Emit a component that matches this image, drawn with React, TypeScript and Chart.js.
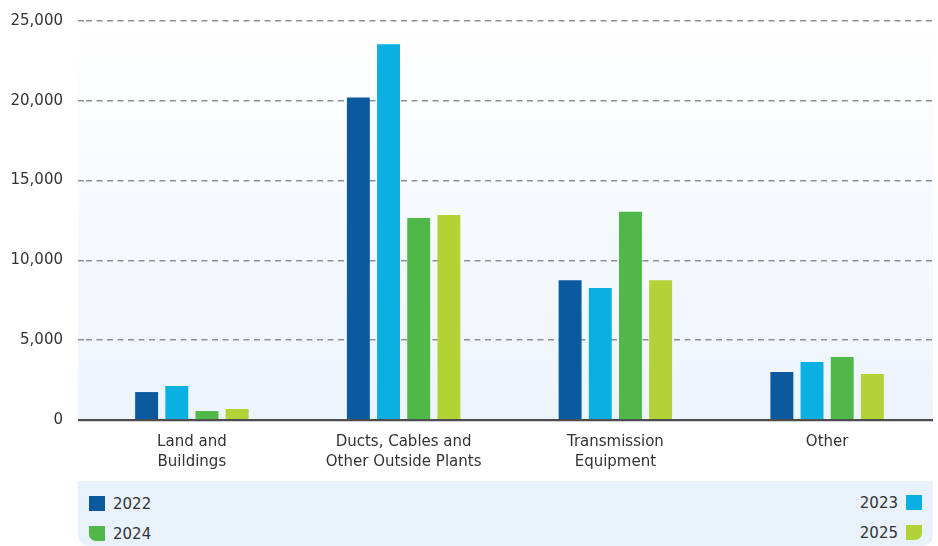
import React, { useEffect, useRef } from 'react';
import { Chart, registerables } from 'chart.js';
Chart.register(...registerables);

const categories: string[][] = [
  ['Land and', 'Buildings'],
  ['Ducts, Cables and', 'Other Outside Plants'],
  ['Transmission', 'Equipment'],
  ['Other'],
];
const years = ['2022', '2023', '2024', '2025'];
const values2022 = [1750, 20200, 8750, 3000];
const values2023 = [2130, 23550, 8270, 3630];
const values2024 = [560, 12650, 13050, 3950];
const values2025 = [690, 12850, 8750, 2880];
const yearColors = ['#0b5aa0', '#0ab0e2', '#50b848', '#b3d236'];
const yMax = 25000;
const yStep = 5000;

const FONT = '"DejaVu Sans", sans-serif';

const bgPlugin = {
  id: 'plotBg',
  beforeDraw(chart: any) {
    const { ctx, chartArea } = chart;
    const g = ctx.createLinearGradient(0, chartArea.top, 0, chartArea.bottom);
    g.addColorStop(0, '#ffffff');
    g.addColorStop(1, '#edf4fc');
    ctx.save();
    ctx.fillStyle = g;
    ctx.fillRect(chartArea.left - 8, chartArea.top, chartArea.right - chartArea.left + 8, chartArea.bottom - chartArea.top);
    ctx.restore();
  },
  afterDatasetsDraw(chart: any) {
    const { ctx, chartArea } = chart;
    ctx.save();
    ctx.strokeStyle = '#4d4d4d';
    ctx.lineWidth = 2;
    ctx.beginPath();
    ctx.moveTo(chartArea.left - 8, chartArea.bottom);
    ctx.lineTo(chartArea.right, chartArea.bottom);
    ctx.stroke();
    ctx.strokeStyle = '#cfd3d8';
    ctx.lineWidth = 1;
    ctx.beginPath();
    ctx.moveTo(chartArea.left - 8, chartArea.bottom + 1.5);
    ctx.lineTo(chartArea.right, chartArea.bottom + 1.5);
    ctx.stroke();
    ctx.restore();
  },
};

function LegendItem({ label, color, side, corner }: { label: string; color: string; side: 'left' | 'right'; corner: string }) {
  const marker = (
    <span
      style={{
        display: 'inline-block',
        width: 16,
        height: 15,
        background: color,
        borderRadius: corner,
      }}
    />
  );
  const text = <span style={{ fontFamily: FONT, fontSize: 15, color: '#333' }}>{label}</span>;
  return (
    <div style={{ display: 'flex', alignItems: 'center', gap: 8, height: 15 }}>
      {side === 'left' ? (
        <>
          {marker}
          {text}
        </>
      ) : (
        <>
          {text}
          {marker}
        </>
      )}
    </div>
  );
}

export default function App() {
  const ref = useRef<HTMLCanvasElement | null>(null);
  useEffect(() => {
    if (!ref.current) return;
    const series = [values2022, values2023, values2024, values2025];
    const chart = new Chart(ref.current, {
      type: 'bar',
      data: {
        labels: categories,
        datasets: years.map((y, i) => ({
          label: y,
          data: series[i],
          backgroundColor: yearColors[i],
          borderWidth: 0,
          categoryPercentage: 0.57,
          barPercentage: 0.76,
        })),
      },
      options: {
        responsive: false,
        animation: false,
        layout: { padding: { top: 21, right: 5, left: 0, bottom: 0 } },
        plugins: { legend: { display: false }, tooltip: { enabled: false } },
        scales: {
          x: {
            grid: { display: false, drawTicks: false },
            border: { display: false },
            ticks: { color: '#333', font: { family: FONT, size: 15, lineHeight: 1.33 }, padding: 12, maxRotation: 0 },
            afterFit: (s: any) => {
              s.height = 61;
            },
          },
          y: {
            min: 0,
            max: yMax,
            ticks: {
              stepSize: yStep,
              color: '#333',
              font: { family: FONT, size: 15 },
              padding: 15,
              callback: (v: any) => Number(v).toLocaleString('en-US'),
            },
            grid: {
              color: (c: any) => (c.tick && c.tick.value === 0 ? 'rgba(0,0,0,0)' : '#8c9097'),
              lineWidth: 1.5,
              drawTicks: true,
              tickLength: 8,
              tickBorderDash: [6, 4.5],
            },
            border: { display: false, dash: [6, 4.5] },
            afterFit: (s: any) => {
              s.width = 86;
              s.paddingTop = 0;
              s.paddingBottom = 0;
            },
          },
        },
      },
      plugins: [bgPlugin],
    });
    return () => chart.destroy();
  }, []);

  return (
    <div style={{ position: 'fixed', left: 0, top: 0, width: 938, height: 546, background: '#fff' }}>
      <canvas ref={ref} width={938} height={481} style={{ display: 'block' }} />
      <div
        style={{
          position: 'absolute',
          left: 78,
          top: 481,
          width: 855,
          height: 65,
          background: '#e9f1fa',
          borderRadius: '0 0 10px 10px',
        }}
      >
        <div style={{ position: 'absolute', left: 11, top: 15 }}>
          <LegendItem label={years[0]} color={yearColors[0]} side="left" corner="0" />
        </div>
        <div style={{ position: 'absolute', left: 11, top: 45 }}>
          <LegendItem label={years[2]} color={yearColors[2]} side="left" corner="0 0 0 7px" />
        </div>
        <div style={{ position: 'absolute', right: 11, top: 14 }}>
          <LegendItem label={years[1]} color={yearColors[1]} side="right" corner="0" />
        </div>
        <div style={{ position: 'absolute', right: 11, top: 44 }}>
          <LegendItem label={years[3]} color={yearColors[3]} side="right" corner="0 0 7px 0" />
        </div>
      </div>
    </div>
  );
}
